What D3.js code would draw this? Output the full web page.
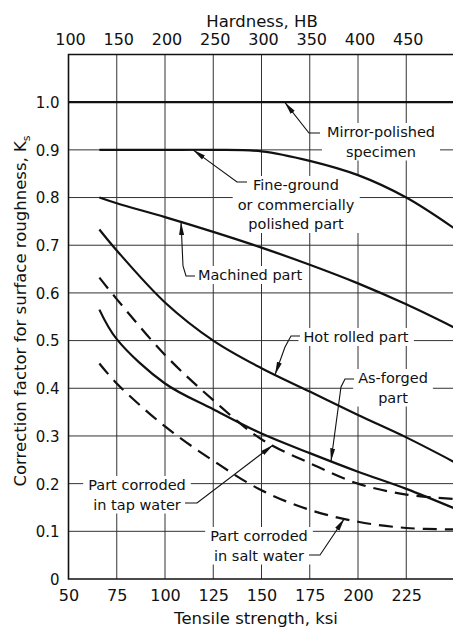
<!DOCTYPE html>
<html>
<head>
<meta charset="utf-8">
<script src="https://cdn.jsdelivr.net/npm/d3@7"></script>
<style>
	body { margin: 0; background: #fff; }
	svg { display: block; font-family: "DejaVu Sans", sans-serif; fill: #111; }
</style>
</head>
<body>
<script>

// tick values of the three axes
var hardnessTicks = [100, 150, 200, 250, 300, 350, 400, 450];
var tensileTicks = [50, 75, 100, 125, 150, 175, 200, 225];
var roughnessTicks = [0, 0.1, 0.2, 0.3, 0.4, 0.5, 0.6, 0.7, 0.8, 0.9, 1.0];

// curves, each point is [tensile strength in ksi, Ks]
var mirrorPolished = [[50, 1.0], [250, 1.0]];
var fineGround = [[66, 0.9], [100, 0.9], [125, 0.9], [150, 0.897], [175, 0.877], [200, 0.847], [225, 0.8], [250, 0.735]];
var machined = [[66, 0.8], [75, 0.788], [100, 0.759], [125, 0.728], [150, 0.695], [175, 0.659], [200, 0.62], [225, 0.576], [250, 0.527]];
var hotRolled = [[66, 0.733], [75, 0.689], [100, 0.58], [125, 0.5], [150, 0.442], [175, 0.393], [200, 0.344], [225, 0.297], [250, 0.245]];
var asForged = [[66, 0.565], [75, 0.503], [100, 0.41], [125, 0.356], [150, 0.305], [175, 0.264], [200, 0.225], [225, 0.189], [250, 0.148]];
var tapWater = [[66, 0.632], [75, 0.587], [100, 0.47], [125, 0.375], [150, 0.293], [175, 0.243], [200, 0.2], [225, 0.177], [250, 0.168]];
var saltWater = [[66, 0.452], [75, 0.41], [100, 0.32], [125, 0.248], [150, 0.186], [175, 0.145], [200, 0.12], [225, 0.107], [250, 0.104]];

(function(){

	var width = 453, height = 628;

	var svg = d3.select('body')
				.append('svg')
				.attr('width', width)
				.attr('height', height);

	// plot box, right edge sits just outside the window like in the scan
	var left = 68.5, right = 454.5, plotTop = 54.5, bottom = 579;

	var x = d3.scaleLinear().domain([50, 250]).range([left, right]);
	var xHB = d3.scaleLinear().domain([100, 500]).range([left, right]);
	var y = d3.scaleLinear().domain([0, 1.1]).range([bottom, plotTop]);

	var defs = svg.append('defs');
	defs.append('marker')
		.attr('id', 'arrow')
		.attr('viewBox', '0 0 13 6')
		.attr('refX', 13)
		.attr('refY', 3)
		.attr('markerWidth', 13)
		.attr('markerHeight', 6)
		.attr('markerUnits', 'userSpaceOnUse')
		.attr('orient', 'auto')
		.append('path')
		.attr('d', 'M0,0.5 L13,3 L0,5.5 Z')
		.attr('fill', '#111');

	var gridLayer = svg.append('g');
	var maskLayer = svg.append('g');
	var curveLayer = svg.append('g');
	var noteLayer = svg.append('g');

	// grid
	gridLayer.selectAll('.vgrid')
		.data(tensileTicks.slice(1))
		.enter().append('line')
		.attr('x1', function(d){ return x(d); })
		.attr('x2', function(d){ return x(d); })
		.attr('y1', plotTop)
		.attr('y2', bottom)
		.attr('stroke', '#333')
		.attr('stroke-width', 1);

	gridLayer.selectAll('.hgrid')
		.data(roughnessTicks.slice(1))
		.enter().append('line')
		.attr('x1', left)
		.attr('x2', right)
		.attr('y1', function(d){ return y(d); })
		.attr('y2', function(d){ return y(d); })
		.attr('stroke', '#333')
		.attr('stroke-width', 1);

	// frame: left, top and bottom
	gridLayer.append('path')
		.attr('d', 'M' + right + ',' + plotTop + ' H' + left + ' V' + bottom + ' H' + right)
		.attr('fill', 'none')
		.attr('stroke', '#111')
		.attr('stroke-width', 1.6);

	// axes, only used for the labels
	var yAxis = svg.append('g')
		.attr('transform', 'translate(' + (left - 6) + ',0)')
		.call(d3.axisLeft(y).tickValues(roughnessTicks).tickSize(0)
			.tickFormat(function(d){ return d === 0 ? '0' : d3.format('.1f')(d); }));

	var xAxis = svg.append('g')
		.attr('transform', 'translate(0,' + (bottom + 7) + ')')
		.call(d3.axisBottom(x).tickValues(tensileTicks).tickSize(0));

	var hbAxis = svg.append('g')
		.attr('transform', 'translate(1.5,' + (plotTop - 7) + ')')
		.call(d3.axisTop(xHB).tickValues(hardnessTicks).tickSize(0));

	[yAxis, xAxis, hbAxis].forEach(function(a){
		a.select('.domain').remove();
		a.selectAll('text')
			.attr('font-family', '"DejaVu Sans", sans-serif')
			.attr('fill', '#111');
	});
	yAxis.selectAll('text').attr('font-size', 15).attr('dy', '0.36em');
	xAxis.selectAll('text').attr('font-size', 16).attr('dy', '0.72em');
	hbAxis.selectAll('text').attr('font-size', 16).attr('dy', 0);

	// axis titles
	svg.append('text')
		.attr('x', 262)
		.attr('y', 27)
		.attr('text-anchor', 'middle')
		.attr('font-size', 16.5)
		.text('Hardness, HB');

	svg.append('text')
		.attr('x', 256)
		.attr('y', 624)
		.attr('text-anchor', 'middle')
		.attr('font-size', 16.5)
		.text('Tensile strength, ksi');

	var yTitle = svg.append('text')
		.attr('transform', 'translate(26,311) rotate(-90)')
		.attr('text-anchor', 'middle')
		.attr('font-size', 16.5);
	yTitle.append('tspan').text('Correction factor for surface roughness, K');
	yTitle.append('tspan').attr('font-size', 11).attr('dy', 4).text('s');

	// curves
	var line = d3.line()
		.x(function(d){ return x(d[0]); })
		.y(function(d){ return y(d[1]); })
		.curve(d3.curveCatmullRom.alpha(0.5));

	var curves = [
		{data: mirrorPolished, dash: null},
		{data: fineGround, dash: null},
		{data: machined, dash: null},
		{data: hotRolled, dash: null},
		{data: asForged, dash: null},
		{data: tapWater, dash: '14,8'},
		{data: saltWater, dash: '14,8'}
	];

	curveLayer.selectAll('path')
		.data(curves)
		.enter().append('path')
		.attr('d', function(d){ return line(d.data); })
		.attr('fill', 'none')
		.attr('stroke', '#111')
		.attr('stroke-width', 2.2)
		.attr('stroke-dasharray', function(d){ return d.dash; });

	// value of a curve at a given strength, linear between points
	function valueAt(series, k) {
		for (var i = 1; i < series.length; i++) {
			if (k <= series[i][0]) {
				var a = series[i-1], b = series[i];
				return a[1] + (b[1] - a[1]) * (k - a[0]) / (b[0] - a[0]);
			}
		}
		return series[series.length-1][1];
	}

	// labels with leader lines, the arrow ends on the curve at tip (ksi)
	var notes = [
		{lines: ['Mirror-polished', 'specimen'], cx: 381, y0: 137, lead: [[320, 133], [309, 133]], series: mirrorPolished, tip: 162},
		{lines: ['Fine-ground', 'or commercially', 'polished part'], cx: 296, y0: 190, lead: [[247, 182], [237, 182]], series: fineGround, tip: 114.5},
		{lines: ['Machined part'], cx: 250, y0: 280, lead: [[195, 276], [186, 276], [183, 266]], series: machined, tip: 108.3},
		{lines: ['Hot rolled part'], cx: 356, y0: 342, lead: [[300, 336], [291, 336], [285, 347]], series: hotRolled, tip: 157},
		{lines: ['As-forged', 'part'], cx: 393, y0: 383, lead: [[354, 379], [345, 379], [341, 387]], series: asForged, tip: 186},
		{lines: ['Part corroded', 'in tap water'], cx: 137, y0: 490, lead: [[185, 503], [197, 503]], series: tapWater, tip: 156},
		{lines: ['Part corroded', 'in salt water'], cx: 259, y0: 541, lead: [[309, 555], [320, 555]], series: saltWater, tip: 193}
	];

	notes.forEach(function(n){
		var t = noteLayer.append('text')
			.attr('text-anchor', 'middle')
			.attr('font-size', 14.5);
		n.lines.forEach(function(s, i){
			t.append('tspan')
				.attr('x', n.cx)
				.attr('y', n.y0 + i * 19.5)
				.text(s);
		});

		// white patch so the grid breaks around the words
		var b = t.node().getBBox();
		maskLayer.append('rect')
			.attr('x', b.x - 5)
			.attr('y', b.y - 1)
			.attr('width', b.width + 10)
			.attr('height', b.height + 2)
			.attr('fill', '#fff');

		var pts = n.lead.concat([[x(n.tip), y(valueAt(n.series, n.tip))]]);
		noteLayer.append('path')
			.attr('d', d3.line()(pts))
			.attr('fill', 'none')
			.attr('stroke', '#111')
			.attr('stroke-width', 1.1)
			.attr('marker-end', 'url(#arrow)');
	});

})();

</script>
</body>
</html>
